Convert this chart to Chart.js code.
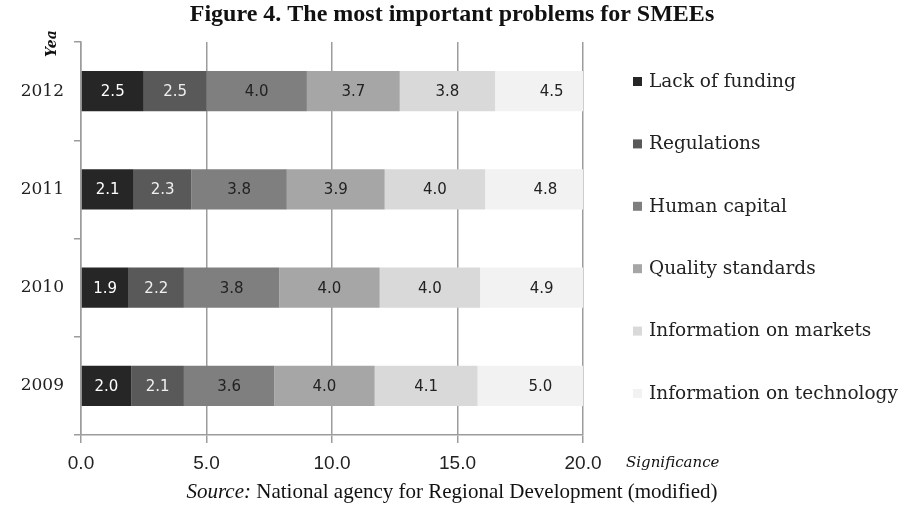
<!DOCTYPE html>
<html lang="en">
<head>
<meta charset="utf-8">
<title>Figure 4. The most important problems for SMEEs</title>
<script src="https://cdn.jsdelivr.net/npm/chart.js@4"></script>
<style>
  body { margin: 0; background: #fff; }
</style>
</head>
<body>
<canvas id="chart" width="904" height="508"></canvas>
<script>
// categories (top to bottom) and one array per problem
const years = ['2012', '2011', '2010', '2009'];
const problems = ['Lack of funding', 'Regulations', 'Human capital', 'Quality standards',
                  'Information on markets', 'Information on technology'];
const lackOfFunding    = [2.5, 2.1, 1.9, 2.0];
const regulations      = [2.5, 2.3, 2.2, 2.1];
const humanCapital     = [4.0, 3.8, 3.8, 3.6];
const qualityStandards = [3.7, 3.9, 4.0, 4.0];
const infoMarkets      = [3.8, 4.0, 4.0, 4.1];
const infoTechnology   = [4.5, 4.8, 4.9, 5.0];
const xTicks = [0, 5, 10, 15, 20];

const series = [lackOfFunding, regulations, humanCapital, qualityStandards, infoMarkets, infoTechnology];
const colors = ['#262626', '#595959', '#7f7f7f', '#a6a6a6', '#d9d9d9', '#f2f2f2'];
const labelColors = ['#ffffff', '#f0f0f0', '#222222', '#222222', '#222222', '#222222'];
const gridGrey = '#9c9c9c';

// value labels, legend, titles and source line
const decor = {
  id: 'decor',
  afterDatasetsDraw(chart) {
    const ctx = chart.ctx;
    ctx.save();
    ctx.font = '15px "DejaVu Sans"';
    ctx.textAlign = 'center';
    ctx.textBaseline = 'middle';
    chart.data.datasets.forEach((ds, i) => {
      chart.getDatasetMeta(i).data.forEach((bar, j) => {
        ctx.fillStyle = labelColors[i];
        ctx.fillText(ds.data[j].toFixed(1), (bar.x + bar.base) / 2, bar.y + 1);
      });
    });
    ctx.restore();
  },
  afterDraw(chart) {
    const ctx = chart.ctx;
    ctx.save();
    ctx.fillStyle = '#111';
    ctx.textBaseline = 'middle';

    // title
    ctx.textAlign = 'center';
    ctx.font = 'bold 24px "Liberation Serif"';
    ctx.fillText('Figure 4. The most important problems for SMEEs', 452, 15);

    // legend
    ctx.textAlign = 'left';
    ctx.font = '18.5px "DejaVu Serif"';
    chart.data.datasets.forEach((ds, i) => {
      const y = 82 + i * 62.4;
      ctx.fillStyle = ds.backgroundColor;
      ctx.fillRect(633, y - 5, 9, 9);
      ctx.fillStyle = '#222';
      ctx.fillText(ds.label, 649, y);
    });

    // axis titles
    ctx.fillStyle = '#111';
    ctx.font = 'italic 15px "DejaVu Serif"';
    ctx.fillText('Significance', 626, 463);
    ctx.save();
    ctx.translate(52, 57);
    ctx.rotate(-Math.PI / 2);
    ctx.font = 'bold italic 14px "DejaVu Serif"';
    ctx.fillText('Yea', 0, 0);
    ctx.restore();

    // source
    const a = 'Source:';
    const b = ' National agency for Regional Development (modified)';
    ctx.font = 'italic 21px "Liberation Serif"';
    const wa = ctx.measureText(a).width;
    ctx.font = '21px "Liberation Serif"';
    const wb = ctx.measureText(b).width;
    const x0 = 452 - (wa + wb) / 2;
    ctx.font = 'italic 21px "Liberation Serif"';
    ctx.fillText(a, x0, 492);
    ctx.font = '21px "Liberation Serif"';
    ctx.fillText(b, x0 + wa, 492);
    ctx.restore();
  }
};

const datasets = problems.map((name, i) => ({
  label: name,
  data: series[i],
  backgroundColor: colors[i],
  borderWidth: 0,
  barPercentage: 0.41,
  categoryPercentage: 1.0
}));

new Chart(document.getElementById('chart').getContext('2d'), {
  type: 'bar',
  data: { labels: years, datasets: datasets },
  options: {
    indexAxis: 'y',
    responsive: false,
    animation: false,
    layout: { padding: { top: 42, left: 0, right: 321, bottom: 0 } },
    plugins: {
      legend: { display: false },
      tooltip: { enabled: false }
    },
    scales: {
      x: {
        stacked: true,
        min: 0,
        max: 20,
        afterBuildTicks: s => { s.ticks = xTicks.map(v => ({ value: v })); },
        ticks: {
          callback: v => Number(v).toFixed(1),
          font: { family: 'Liberation Sans', size: 19 },
          color: '#222',
          padding: 9,
          maxRotation: 0
        },
        grid: { color: gridGrey, lineWidth: 1.5, tickLength: 8 },
        border: { color: gridGrey, width: 1.5 },
        afterFit: s => { s.height = 73; }
      },
      y: {
        stacked: true,
        ticks: {
          font: { family: 'DejaVu Serif', size: 17 },
          color: '#222',
          padding: 10
        },
        grid: { drawOnChartArea: false, color: gridGrey, lineWidth: 1.5, tickLength: 7, offset: true },
        border: { color: gridGrey, width: 1.5 },
        afterFit: s => { s.width = 81; }
      }
    }
  },
  plugins: [decor]
});
</script>
</body>
</html>
